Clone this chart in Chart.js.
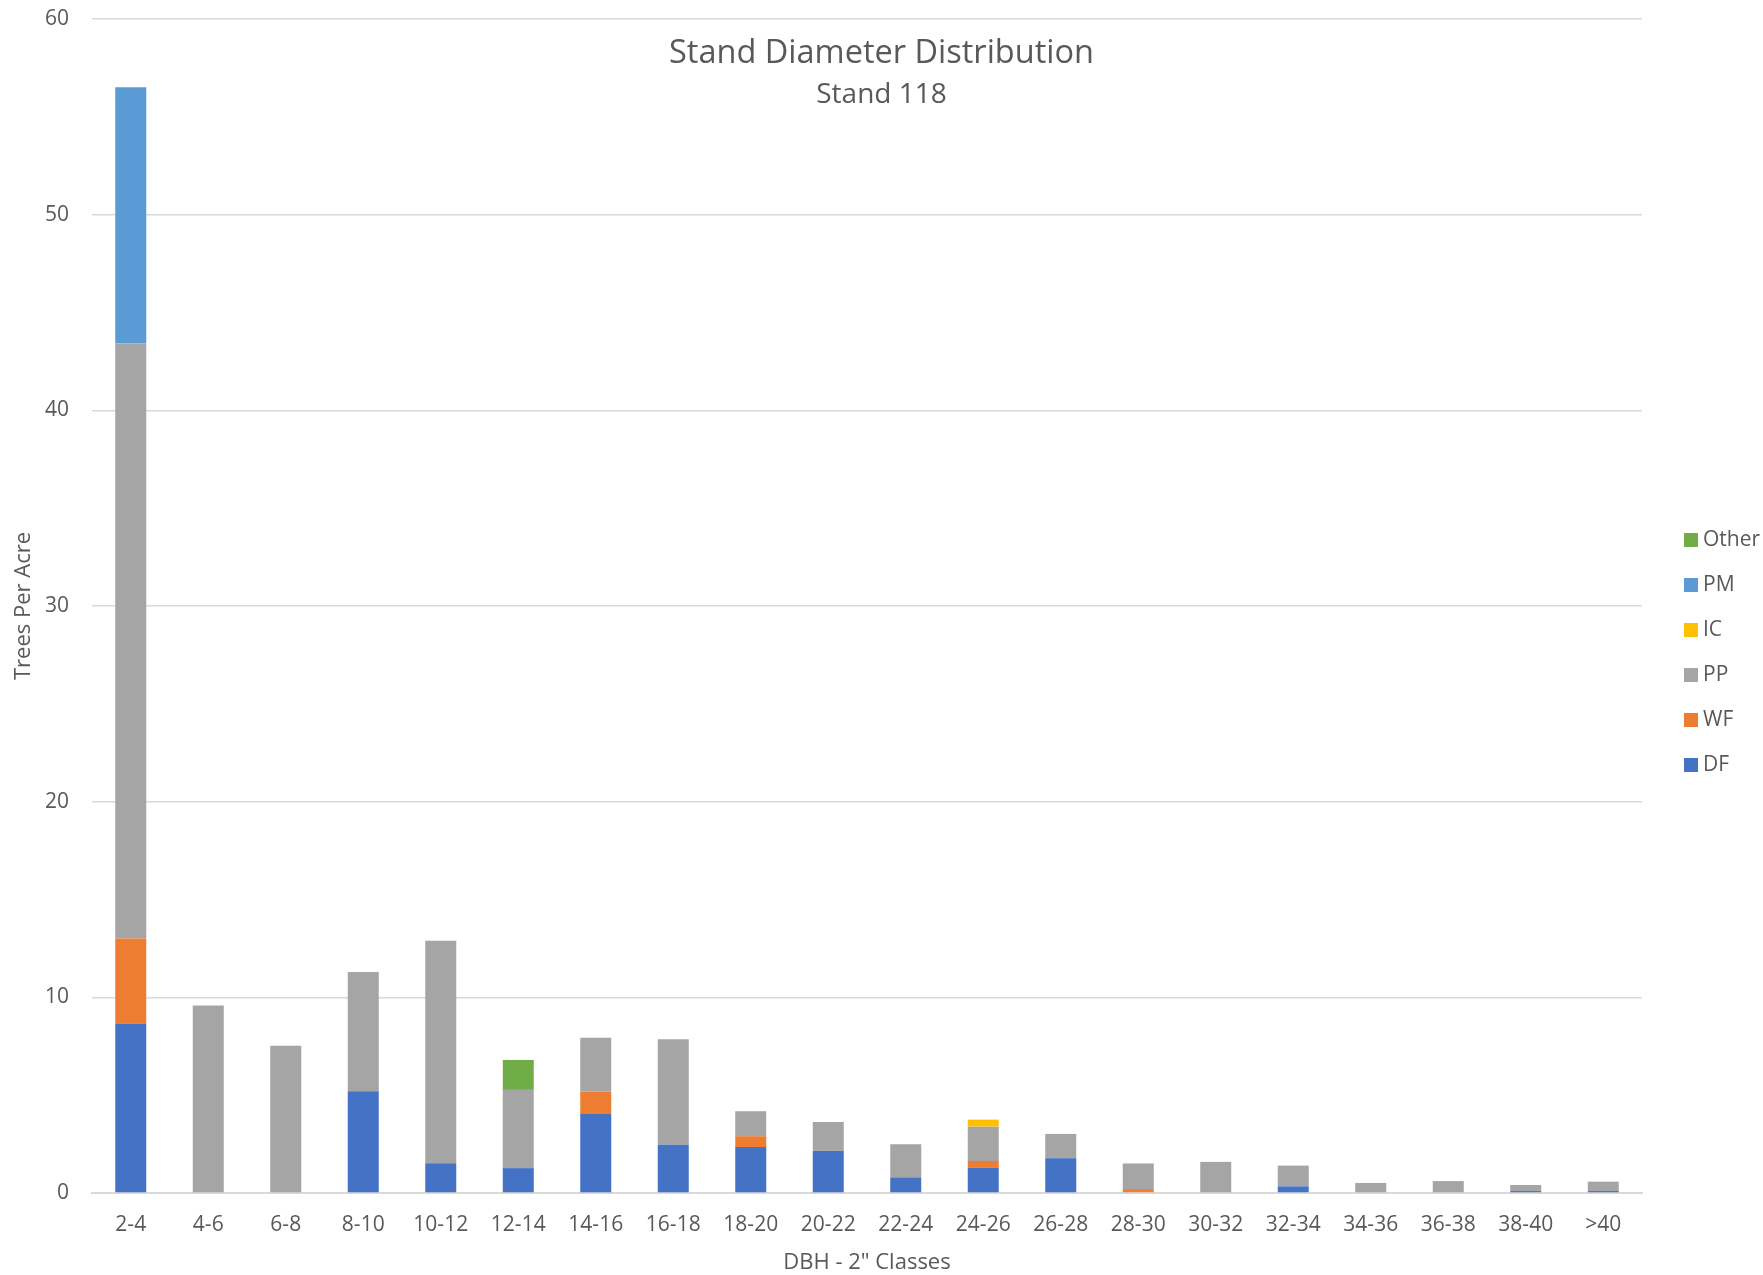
<!DOCTYPE html>
<html>
<head>
<meta charset="utf-8">
<title>Stand Diameter Distribution</title>
<script src="https://cdn.jsdelivr.net/npm/chart.js@4/dist/chart.umd.min.js"></script>
<style>
  html, body { margin: 0; padding: 0; background: #fff; }
  #chartBox { width: 1763px; height: 1275px; }
</style>
</head>
<body>
<div id="chartBox">
  <canvas id="myChart" width="1763" height="1275"></canvas>
</div>
<script>
// DBH classes (2" steps) and trees per acre for each species
const classes = ['2-4', '4-6', '6-8', '8-10', '10-12', '12-14', '14-16', '16-18', '18-20', '20-22',
                 '22-24', '24-26', '26-28', '28-30', '30-32', '32-34', '34-36', '36-38', '38-40', '>40'];
const dfTpa    = [8.66, 0, 0, 5.2, 1.52, 1.27, 4.06, 2.47, 2.35, 2.15, 0.8, 1.3, 1.77, 0, 0, 0.34, 0, 0, 0.1, 0.1];
const wfTpa    = [4.35, 0, 0, 0, 0, 0, 1.11, 0, 0.55, 0, 0, 0.34, 0, 0.2, 0, 0, 0, 0, 0, 0];
const ppTpa    = [30.4, 9.58, 7.53, 6.1, 11.37, 4.0, 2.76, 5.39, 1.28, 1.48, 1.69, 1.75, 1.25, 1.31, 1.59, 1.06, 0.51, 0.61, 0.31, 0.48];
const icTpa    = [0, 0, 0, 0, 0, 0, 0, 0, 0, 0, 0, 0.36, 0, 0, 0, 0, 0, 0, 0, 0];
const pmTpa    = [13.1, 0, 0, 0, 0, 0, 0, 0, 0, 0, 0, 0, 0, 0, 0, 0, 0, 0, 0, 0];
const otherTpa = [0, 0, 0, 0, 0, 1.53, 0, 0, 0, 0, 0, 0, 0, 0, 0, 0, 0, 0, 0, 0];
const yTicks   = [0, 10, 20, 30, 40, 50, 60];

const textColor = '#595959';
const gridColor = '#d9d9d9';
Chart.defaults.font.family = "'Open Sans', sans-serif";
Chart.defaults.color = textColor;

const series = (label, data, color) => ({
    label, data,
    backgroundColor: color,
    borderWidth: 0,
    barPercentage: 0.4,
    categoryPercentage: 1.0
});

// title sits inside the plot area, under the top gridline
const chartTitle = {
    id: 'chartTitle',
    afterDraw(chart) {
        const { ctx, width } = chart;
        ctx.save();
        ctx.fillStyle = textColor;
        ctx.textAlign = 'center';
        ctx.textBaseline = 'alphabetic';
        ctx.font = "32.5px 'Open Sans', sans-serif";
        ctx.fillText('Stand Diameter Distribution', width / 2, 63);
        ctx.font = "28px 'Open Sans', sans-serif";
        ctx.fillText('Stand 118', width / 2, 103);
        ctx.restore();
    }
};

// species key on the right, top to bottom = top of stack first
const sideLegend = {
    id: 'sideLegend',
    afterDraw(chart) {
        const { ctx } = chart;
        const sets = chart.data.datasets.slice().reverse();
        ctx.save();
        ctx.font = "21px 'Open Sans', sans-serif";
        ctx.textBaseline = 'middle';
        ctx.textAlign = 'left';
        sets.forEach((ds, i) => {
            const y = 540 + i * 45;
            ctx.fillStyle = ds.backgroundColor;
            ctx.fillRect(1684, y - 7, 14, 14);
            ctx.fillStyle = textColor;
            ctx.fillText(ds.label, 1703, y);
        });
        ctx.restore();
    }
};

const config = {
    type: 'bar',
    data: {
        labels: classes,
        datasets: [
            series('DF', dfTpa, '#4472c4'),
            series('WF', wfTpa, '#ed7d31'),
            series('PP', ppTpa, '#a5a5a5'),
            series('IC', icTpa, '#ffc000'),
            series('PM', pmTpa, '#5b9bd5'),
            series('Other', otherTpa, '#70ad47')
        ]
    },
    options: {
        responsive: false,
        animation: false,
        layout: { padding: { top: 19, right: 121, bottom: 0, left: 0 } },
        plugins: {
            legend: { display: false },
            title: { display: false },
            tooltip: { enabled: false }
        },
        scales: {
            x: {
                stacked: true,
                grid: { display: false, drawTicks: false },
                border: { display: true, color: gridColor, width: 2 },
                ticks: { font: { size: 21 }, padding: 19, maxRotation: 0, autoSkip: false },
                title: { display: true, text: 'DBH - 2" Classes', font: { size: 22, lineHeight: 1.1 }, padding: { top: 0, bottom: 0 } },
                afterFit(scale) { scale.height = 82; }
            },
            y: {
                stacked: true,
                min: 0,
                max: 60,
                grid: { color: gridColor, lineWidth: 1.5, drawTicks: false },
                border: { display: false },
                afterBuildTicks(scale) { scale.ticks = yTicks.map(v => ({ value: v })); },
                ticks: { font: { size: 21 }, padding: 23 },
                title: { display: true, text: 'Trees Per Acre', font: { size: 22 }, padding: { top: 11, bottom: 0 } },
                afterFit(scale) {
                    scale.width = 92;
                    // the top label fits in the layout padding, so no extra room above the plot
                    scale.paddingTop = 0;
                    scale.paddingBottom = 0;
                }
            }
        }
    },
    plugins: [chartTitle, sideLegend]
};

const myChart = new Chart(document.getElementById('myChart'), config);
</script>
</body>
</html>
